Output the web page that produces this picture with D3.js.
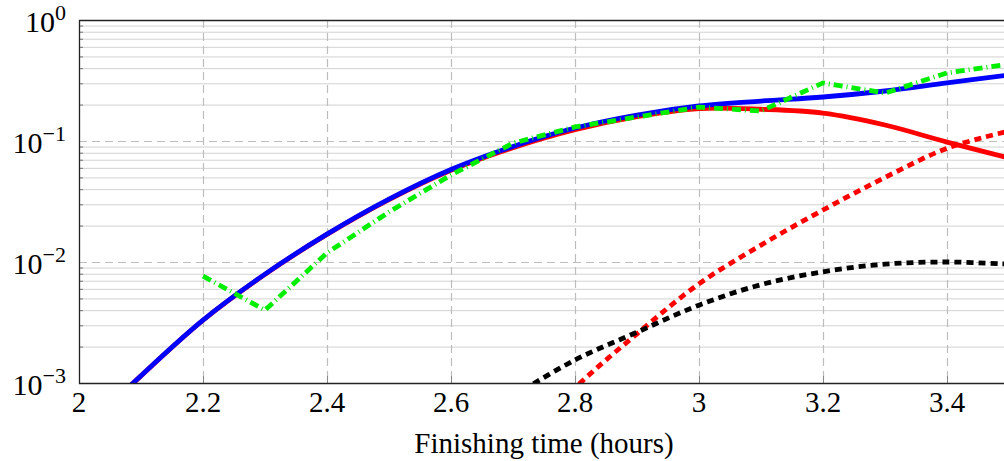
<!DOCTYPE html>
<html>
<head>
<meta charset="utf-8">
<script src="https://cdn.jsdelivr.net/npm/d3@7"></script>
<style>
  body { margin: 0; background: #fff; }
  svg { display: block; }
  text { font-family: "Liberation Serif", "DejaVu Serif", serif; fill: #000; }
</style>
</head>
<body>
<div id="plotholder"></div>
<script>
// x positions (hours)
const XS = [2.0, 2.1, 2.2, 2.3, 2.4, 2.5, 2.6, 2.7, 2.8, 2.9, 3.0, 3.1, 3.2, 3.3, 3.4, 3.5]

// solid blue curve
const BLUE = [3.72e-4, 1.15e-3, 3.31e-3, 7.94e-3, 0.0170, 0.0331, 0.0582, 0.0902, 0.128, 0.164, 0.195, 0.214, 0.231, 0.259, 0.302, 0.351]
// solid red curve (hidden under the blue one at first)
const RED = [3.7e-4, 1.145e-3, 3.3e-3, 7.9e-3, 0.0169, 0.0328, 0.0573, 0.0880, 0.124, 0.159, 0.1855, 0.183, 0.170, 0.1355, 0.098, 0.0724]

// dashed curves start later
const XS_LATE = [2.7, 2.8, 2.9, 3.0, 3.1, 3.2, 3.3, 3.4, 3.5]
const RED_DASHED = [2.6e-4, 9.1e-4, 2.55e-3, 6.6e-3, 0.0138, 0.0269, 0.050, 0.087, 0.121]
const BLACK_DASHED = [7.8e-4, 1.55e-3, 2.63e-3, 4.4e-3, 6.5e-3, 8.3e-3, 9.6e-3, 0.0100, 9.6e-3]

// green dash-dot, sampled every 0.1 h
const XS_GREEN = [2.2, 2.3, 2.4, 2.5, 2.6, 2.7, 2.8, 2.9, 3.0, 3.1, 3.2, 3.3, 3.4, 3.5]
const GREEN = [7.65e-3, 4.0e-3, 0.0119, 0.0259, 0.0524, 0.096, 0.1306, 0.158, 0.1905, 0.177, 0.302, 0.249, 0.365, 0.432]

const XTICKS = [2, 2.2, 2.4, 2.6, 2.8, 3, 3.2, 3.4]
const XTICKLABELS = ['2', '2.2', '2.4', '2.6', '2.8', '3', '3.2', '3.4']
const YDECADES = [1e-3, 1e-2, 1e-1, 1]
const YEXPONENTS = ['\u22123', '\u22122', '\u22121', '0']
const XLABEL = 'Finishing time (hours)'

const W = 1004, H = 461
const plot = { left: 79, top: 20, right: 1009, bottom: 383 }

const svg = d3.select('#plotholder').append('svg')
  .attr('width', W)
  .attr('height', H)

const xscale = d3.scaleLinear().domain([2, 3.5]).range([plot.left, plot.right])
const yscale = d3.scaleLog().domain([1e-3, 1]).range([plot.bottom, plot.top])

svg.append('clipPath').attr('id', 'clip')
  .append('rect')
  .attr('x', plot.left).attr('y', plot.top)
  .attr('width', plot.right - plot.left).attr('height', plot.bottom - plot.top)

// minor horizontal grid (2..9 x 10^k)
const minors = []
for (let k = -3; k < 0; k++) {
  for (let m = 2; m <= 9; m++) minors.push(m * Math.pow(10, k))
}
const grid = svg.append('g')
grid.selectAll('line.minor')
  .data(minors)
  .enter().append('line')
  .attr('x1', plot.left).attr('x2', plot.right)
  .attr('y1', d => yscale(d) + 0.5).attr('y2', d => yscale(d) + 0.5)
  .attr('stroke', '#d2d2d2').attr('stroke-width', 1)

// major horizontal grid (dashed)
grid.selectAll('line.ymajor')
  .data(YDECADES.slice(1, 3))
  .enter().append('line')
  .attr('x1', plot.left).attr('x2', plot.right)
  .attr('y1', d => yscale(d) + 0.5).attr('y2', d => yscale(d) + 0.5)
  .attr('stroke', '#bdbdbd').attr('stroke-width', 1.2)
  .attr('stroke-dasharray', '8,5')

// major vertical grid (dashed)
grid.selectAll('line.xmajor')
  .data(XTICKS.slice(1))
  .enter().append('line')
  .attr('x1', d => Math.round(xscale(d)) + 0.5).attr('x2', d => Math.round(xscale(d)) + 0.5)
  .attr('y1', plot.top).attr('y2', plot.bottom)
  .attr('stroke', '#bdbdbd').attr('stroke-width', 1.2)
  .attr('stroke-dasharray', '8,5')

// small ticks inside the frame
grid.selectAll('line.xtick')
  .data(XTICKS.slice(1))
  .enter().append('line')
  .attr('x1', d => Math.round(xscale(d)) + 0.5).attr('x2', d => Math.round(xscale(d)) + 0.5)
  .attr('y1', plot.bottom).attr('y2', plot.bottom - 7)
  .attr('stroke', '#888').attr('stroke-width', 1)
grid.selectAll('line.ytick')
  .data(minors)
  .enter().append('line')
  .attr('x1', plot.left).attr('x2', plot.left + 4)
  .attr('y1', d => yscale(d) + 0.5).attr('y2', d => yscale(d) + 0.5)
  .attr('stroke', '#777').attr('stroke-width', 1)

// curves
const lines = svg.append('g').attr('clip-path', 'url(#clip)')
const smooth = d3.line()
  .x(d => xscale(d[0]))
  .y(d => yscale(d[1]))
  .curve(d3.curveCatmullRom.alpha(0.5))
const straight = d3.line()
  .x(d => xscale(d[0]))
  .y(d => yscale(d[1]))

const series = [
  { xs: XS, ys: RED, color: '#ff0000', dash: null, gen: smooth },
  { xs: XS_LATE, ys: RED_DASHED, color: '#ff0000', dash: '7,5', gen: smooth },
  { xs: XS_LATE, ys: BLACK_DASHED, color: '#000000', dash: '7,5', gen: smooth },
  { xs: XS, ys: BLUE, color: '#0000ff', dash: null, gen: smooth },
  { xs: XS_GREEN, ys: GREEN, color: '#00ee00', dash: '9,4,1,4', gen: straight },
]
series.forEach(s => {
  const pts = s.xs.map((x, i) => [x, s.ys[i]])
  lines.append('path')
    .attr('d', s.gen(pts))
    .attr('fill', 'none')
    .attr('stroke', s.color)
    .attr('stroke-width', 4.8)
    .attr('stroke-dasharray', s.dash)
})

// frame
svg.append('path')
  .attr('d', `M${plot.right},${plot.top + 0.5}H${plot.left + 0.5}V${plot.bottom + 0.5}H${plot.right}`)
  .attr('fill', 'none')
  .attr('stroke', '#222')
  .attr('stroke-width', 1.3)

// x tick labels
svg.selectAll('text.xlab')
  .data(XTICKS)
  .enter().append('text')
  .attr('x', d => xscale(d))
  .attr('y', plot.bottom + 29)
  .attr('text-anchor', 'middle')
  .attr('font-size', 29)
  .text((d, i) => XTICKLABELS[i])

// y tick labels 10^k
const ylabs = svg.selectAll('text.ylab')
  .data(YDECADES)
  .enter().append('text')
  .attr('x', 66)
  .attr('y', d => yscale(d) + 12)
  .attr('text-anchor', 'end')
  .attr('font-size', 30)
ylabs.append('tspan').text('10')
ylabs.append('tspan')
  .attr('dy', -12)
  .attr('font-size', 22)
  .text((d, i) => YEXPONENTS[i])

// x axis title
svg.append('text')
  .attr('x', (plot.left + plot.right) / 2)
  .attr('y', 453)
  .attr('text-anchor', 'middle')
  .attr('font-size', 29)
  .text(XLABEL)
</script>
</body>
</html>
